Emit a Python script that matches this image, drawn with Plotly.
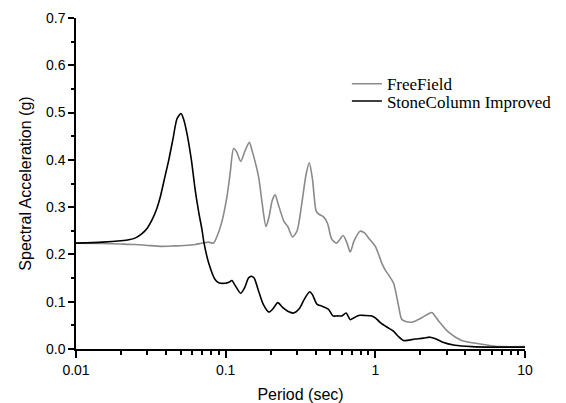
import plotly.graph_objects as go

# FreeField (gray)
ff_period = [0.01, 0.015, 0.02, 0.025, 0.03, 0.0375, 0.045, 0.0526, 0.0626, 0.07, 0.077, 0.083,
             0.088, 0.0945, 0.102, 0.107, 0.113, 0.118, 0.126, 0.135, 0.144, 0.150, 0.166, 0.175,
             0.186, 0.195, 0.205, 0.214, 0.225, 0.245, 0.26, 0.28, 0.30, 0.32, 0.345, 0.362,
             0.38, 0.403, 0.42, 0.45, 0.48, 0.51, 0.55, 0.58, 0.61, 0.645, 0.68, 0.72, 0.79,
             0.85, 0.90, 1.0, 1.11, 1.16, 1.32, 1.43, 1.50, 1.6, 1.77, 2.04, 2.25, 2.39, 2.5,
             2.64, 3.1, 3.77, 4.9, 5.97, 7.0, 10.0]
ff_sa = [0.224, 0.223, 0.222, 0.221, 0.219, 0.217, 0.218, 0.219, 0.221, 0.224, 0.226, 0.224,
         0.240, 0.270, 0.322, 0.370, 0.424, 0.418, 0.397, 0.420, 0.437, 0.420, 0.364, 0.310,
         0.259, 0.280, 0.315, 0.326, 0.305, 0.270, 0.259, 0.237, 0.250, 0.300, 0.370, 0.394,
         0.360, 0.291, 0.285, 0.280, 0.265, 0.233, 0.224, 0.232, 0.240, 0.225, 0.205, 0.228, 0.249,
         0.245, 0.235, 0.217, 0.180, 0.168, 0.140, 0.091, 0.063, 0.058, 0.057, 0.066, 0.074, 0.077, 0.070,
         0.060, 0.035, 0.018, 0.011, 0.007, 0.005, 0.005]

# StoneColumn Improved (black)
sc_period = [0.01, 0.015, 0.02, 0.0225, 0.025, 0.0276, 0.03, 0.0322, 0.0345, 0.0366, 0.039, 0.0417,
             0.0445, 0.0473, 0.0503, 0.0525, 0.0552, 0.059, 0.0626, 0.066, 0.0695, 0.0716, 0.077,
             0.085, 0.09, 0.0995, 0.105, 0.110, 0.116, 0.126, 0.134, 0.142, 0.148, 0.155, 0.165,
             0.178, 0.195, 0.207, 0.223, 0.24, 0.26, 0.284, 0.31, 0.335, 0.364, 0.38, 0.407, 0.445,
             0.487, 0.52, 0.56, 0.598, 0.638, 0.68, 0.72, 0.773, 0.85, 0.948, 1.0, 1.07, 1.2, 1.32,
             1.42, 1.54, 1.84, 2.1, 2.32, 2.55, 2.79, 3.4, 4.42, 6.0, 10.0]
sc_sa = [0.224, 0.226, 0.229, 0.231, 0.235, 0.244, 0.256, 0.273, 0.295, 0.322, 0.360, 0.400,
         0.445, 0.487, 0.498, 0.485, 0.455, 0.400, 0.336, 0.290, 0.252, 0.225, 0.182,
         0.147, 0.140, 0.139, 0.141, 0.145, 0.134, 0.118, 0.130, 0.150, 0.154, 0.150, 0.125,
         0.095, 0.078, 0.085, 0.098, 0.088, 0.080, 0.076, 0.085, 0.105, 0.121, 0.115, 0.095, 0.090,
         0.084, 0.070, 0.070, 0.070, 0.076, 0.062, 0.066, 0.071, 0.071, 0.070, 0.066, 0.057, 0.046, 0.038,
         0.027, 0.018, 0.021, 0.023, 0.025, 0.021, 0.015, 0.008, 0.005, 0.004, 0.004]

x_major = [0.01, 0.1, 1, 10]
x_major_text = ["0.01", "0.1", "1", "10"]
x_minor = [m * 10 ** e for e in (-2, -1, 0) for m in range(2, 10)]

fig = go.Figure()
fig.add_trace(go.Scatter(x=ff_period, y=ff_sa, mode="lines", name="FreeField", legend="legend",
                         line=dict(color="#8a8a8a", width=1.6, shape="spline", smoothing=0.7)))
fig.add_trace(go.Scatter(x=sc_period, y=sc_sa, mode="lines", name="StoneColumn Improved", legend="legend2",
                         line=dict(color="#000000", width=1.6, shape="spline", smoothing=0.7)))

axis_font = dict(family="Liberation Sans, Arial, sans-serif", size=14, color="black")
title_font = dict(family="Liberation Sans, Arial, sans-serif", size=16, color="black")
leg_font = dict(family="Liberation Serif, Times New Roman, serif", size=17, color="black")

# page body adds an 8px offset, so the figure is sized/margined to compensate
fig.update_layout(
    width=558, height=395,
    margin=dict(l=68, r=40, t=10, b=54),
    paper_bgcolor="white", plot_bgcolor="white",
    showlegend=True,
    legend=dict(x=0.602, y=0.80, xanchor="left", yanchor="middle", font=leg_font,
                bgcolor="rgba(0,0,0,0)", itemwidth=30),
    legend2=dict(x=0.602, y=0.748, xanchor="left", yanchor="middle", font=leg_font,
                 bgcolor="rgba(0,0,0,0)", itemwidth=30),
    xaxis=dict(type="log", range=[-2, 1], showline=True, linecolor="black", linewidth=1.5,
               showgrid=False, zeroline=False, ticks="outside", ticklen=7, tickwidth=1.5,
               tickcolor="black", tickvals=x_major, ticktext=x_major_text, tickfont=axis_font,
               automargin=False,
               minor=dict(tickvals=x_minor, ticks="outside", ticklen=4, tickcolor="black", showgrid=False),
               title=dict(text="Period (sec)", font=title_font, standoff=12)),
    yaxis=dict(range=[0, 0.7], showline=True, linecolor="black", linewidth=1.5,
               showgrid=False, zeroline=False, ticks="outside", ticklen=6, tickwidth=1.5,
               tickcolor="black", dtick=0.1, tickformat=".1f", tickfont=axis_font,
               automargin=False,
               minor=dict(dtick=0.05, ticks="outside", ticklen=3, tickcolor="black", showgrid=False),
               title=dict(text="Spectral Acceleration (g)", font=title_font, standoff=10)),
)

fig.write_html("out.html")
